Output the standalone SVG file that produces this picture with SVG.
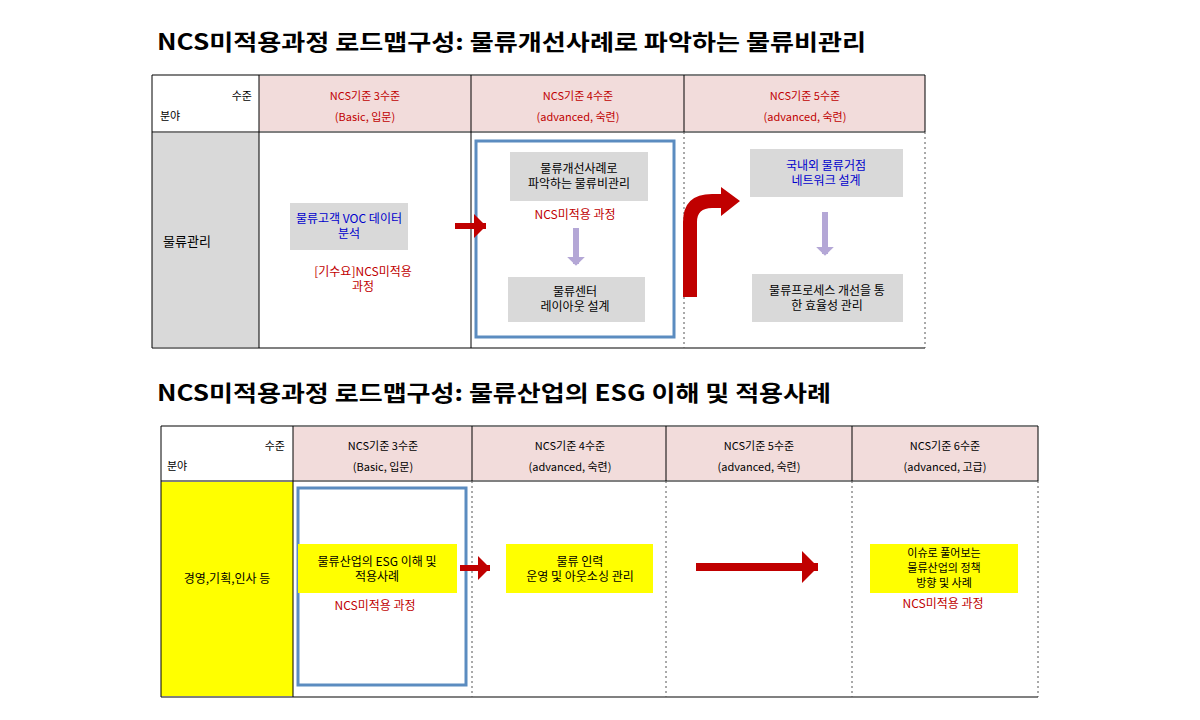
<svg xmlns="http://www.w3.org/2000/svg" width="1200" height="720" viewBox="0 0 1200 720">
<style>
text{font-family:"Noto Sans CJK KR","Noto Sans",sans-serif;font-size:12px;text-anchor:middle}
.title{font-size:22px;font-weight:bold;text-anchor:start;fill:#000}
.hdr{fill:#f2dcdb}
.hr{fill:#c00000;font-size:11px}
.hk{fill:#000}
.h11{font-size:11px}
.g{fill:#d9d9d9}
.y{fill:#ffff00}
.blue{fill:#0000cc}
.red{fill:#c00000}
.solid{stroke:#000;stroke-width:1;fill:none}
.dot{stroke:#555;stroke-width:1;stroke-dasharray:2,3;fill:none}
.frame{fill:none;stroke:#5b8cc0;stroke-width:3}
.thick{stroke:#808080;stroke-width:2}
</style>
<defs>
<marker id="rh" markerWidth="4" markerHeight="4" refX="2" refY="2" orient="auto" markerUnits="strokeWidth"><path d="M0,0 L2,2 L0,4 Z" fill="#c00000"/></marker>
<marker id="lh" markerWidth="3" markerHeight="3" refX="1.2" refY="1.5" orient="auto" markerUnits="strokeWidth"><path d="M0,0 L1.5,1.5 L0,3 Z" fill="#b4a7d6"/></marker>
</defs>
<text class="title" x="157" y="50" textLength="709" lengthAdjust="spacingAndGlyphs">NCS미적용과정 로드맵구성: 물류개선사례로 파악하는 물류비관리</text>
<text class="title" x="157" y="401" textLength="674" lengthAdjust="spacingAndGlyphs">NCS미적용과정 로드맵구성: 물류산업의 ESG 이해 및 적용사례</text>

<g id="table1">
<rect class="hdr" x="259" y="75" width="666" height="57"/>
<rect class="g" x="152" y="132" width="107" height="216"/>
<line class="thick" x1="152" y1="75" x2="925" y2="75"/>
<line class="thick" x1="152" y1="132" x2="925" y2="132"/>
<line class="thick" x1="152" y1="348" x2="925" y2="348"/>
<line class="solid" x1="152" y1="75" x2="152" y2="348"/>
<line class="solid" x1="259" y1="75" x2="259" y2="348"/>
<line class="solid" x1="471" y1="75" x2="471" y2="348"/>
<line class="solid" x1="684" y1="75" x2="684" y2="132"/>
<line class="dot" x1="684" y1="132" x2="684" y2="348"/>
<line class="solid" x1="925" y1="75" x2="925" y2="132"/>
<line class="dot" x1="925" y1="132" x2="925" y2="348"/>
<text class="hk h11" x="252" y="100" style="text-anchor:end">수준</text>
<text class="hk h11" x="160" y="120" style="text-anchor:start">분야</text>
<text class="hr" x="365" y="100">NCS기준 3수준</text>
<text class="hr" x="365" y="121">(Basic, 입문)</text>
<text class="hr" x="578" y="100">NCS기준 4수준</text>
<text class="hr" x="578" y="121">(advanced, 숙련)</text>
<text class="hr" x="805" y="100">NCS기준 5수준</text>
<text class="hr" x="805" y="121">(advanced, 숙련)</text>
<text class="hk" x="187" y="246" style="font-size:13px">물류관리</text>
</g>

<g id="n1"><rect class="g" x="290" y="203" width="118" height="47"/>
<text class="blue" x="349" y="223">물류고객 VOC 데이터</text><text class="blue" x="349" y="238">분석</text>
<text class="red" x="363" y="276">[기수요]NCS미적용</text><text class="red" x="363" y="291">과정</text></g>
<g id="frame1"><rect class="frame" x="476" y="141" width="198" height="196"/></g>
<g id="n2"><rect class="g" x="510" y="152" width="138" height="49"/>
<text class="hk" x="579" y="173">물류개선사례로</text><text class="hk" x="579" y="188">파악하는 물류비관리</text>
<text class="red" x="575" y="219">NCS미적용 과정</text></g>
<g id="n3"><rect class="g" x="508" y="277" width="137" height="45"/>
<text class="hk" x="575" y="296">물류센터</text><text class="hk" x="575" y="311">레이아웃 설계</text></g>
<g id="n4"><rect class="g" x="750" y="149" width="153" height="48"/>
<text class="blue" x="826" y="170">국내외 물류거점</text><text class="blue" x="826" y="185">네트워크 설계</text></g>
<g id="n5"><rect class="g" x="752" y="274" width="151" height="48"/>
<text class="hk" x="827" y="295">물류프로세스 개선을 통</text><text class="hk" x="827" y="310">한 효율성 관리</text></g>

<g id="table2">
<rect class="hdr" x="293" y="426" width="745" height="55"/>
<rect class="y" x="161" y="481" width="132" height="216"/>
<line class="thick" x1="161" y1="426" x2="1038" y2="426"/>
<line class="thick" x1="161" y1="481" x2="1038" y2="481"/>
<line class="thick" x1="161" y1="697" x2="1038" y2="697"/>
<line class="solid" x1="161" y1="426" x2="161" y2="697"/>
<line class="solid" x1="293" y1="426" x2="293" y2="697"/>
<line class="solid" x1="472" y1="426" x2="472" y2="481"/>
<line class="solid" x1="666" y1="426" x2="666" y2="481"/>
<line class="solid" x1="852" y1="426" x2="852" y2="481"/>
<line class="solid" x1="1038" y1="426" x2="1038" y2="481"/>
<line class="dot" x1="472" y1="481" x2="472" y2="697"/>
<line class="dot" x1="666" y1="481" x2="666" y2="697"/>
<line class="dot" x1="852" y1="481" x2="852" y2="697"/>
<line class="dot" x1="1038" y1="481" x2="1038" y2="697"/>
<text class="hk h11" x="285" y="450" style="text-anchor:end">수준</text>
<text class="hk h11" x="167" y="470" style="text-anchor:start">분야</text>
<text class="hk h11" x="383" y="450">NCS기준 3수준</text>
<text class="hk h11" x="383" y="471">(Basic, 입문)</text>
<text class="hk h11" x="570" y="450">NCS기준 4수준</text>
<text class="hk h11" x="570" y="471">(advanced, 숙련)</text>
<text class="hk h11" x="759" y="450">NCS기준 5수준</text>
<text class="hk h11" x="759" y="471">(advanced, 숙련)</text>
<text class="hk h11" x="945" y="450">NCS기준 6수준</text>
<text class="hk h11" x="945" y="471">(advanced, 고급)</text>
<text class="hk" x="227" y="583">경영,기획,인사 등</text>
</g>
<g id="frame2"><rect class="frame" x="298" y="488" width="168" height="197"/></g>
<g id="m1"><rect class="y" x="298" y="544" width="159" height="49"/>
<text class="hk" x="377" y="566">물류산업의 ESG 이해 및</text><text class="hk" x="377" y="581">적용사례</text>
<text class="red" x="375" y="610">NCS미적용 과정</text></g>
<g id="m2"><rect class="y" x="506" y="544" width="147" height="49"/>
<text class="hk" x="580" y="566">물류 인력</text><text class="hk" x="580" y="581">운영 및 아웃소싱 관리</text></g>
<g id="m3"><rect class="y" x="870" y="544" width="148" height="49"/>
<text class="hk h11" x="944" y="557">이슈로 풀어보는</text><text class="hk h11" x="944" y="572">물류산업의 정책</text><text class="hk h11" x="944" y="587">방향 및 사례</text>
<text class="red" x="943" y="608">NCS미적용 과정</text></g>

<g id="connectors">
<line x1="455" y1="226" x2="486" y2="226" stroke="#c00000" stroke-width="6" marker-end="url(#rh)"/>
<line x1="576" y1="228" x2="576" y2="264" stroke="#b4a7d6" stroke-width="6" marker-end="url(#lh)"/>
<line x1="825" y1="212" x2="825" y2="254" stroke="#b4a7d6" stroke-width="6" marker-end="url(#lh)"/>
<path d="M683,297 L683,222 Q683,194 712,194 L721,194 L721,187 L740,201 L721,216 L721,208 L712,208 Q697,208 697,222 L697,297 Z" fill="#c00000"/>
<line x1="460" y1="568" x2="490" y2="568" stroke="#c00000" stroke-width="6" marker-end="url(#rh)"/>
<line x1="696" y1="567" x2="818" y2="567" stroke="#c00000" stroke-width="8" marker-end="url(#rh)"/>
</g>
</svg>
